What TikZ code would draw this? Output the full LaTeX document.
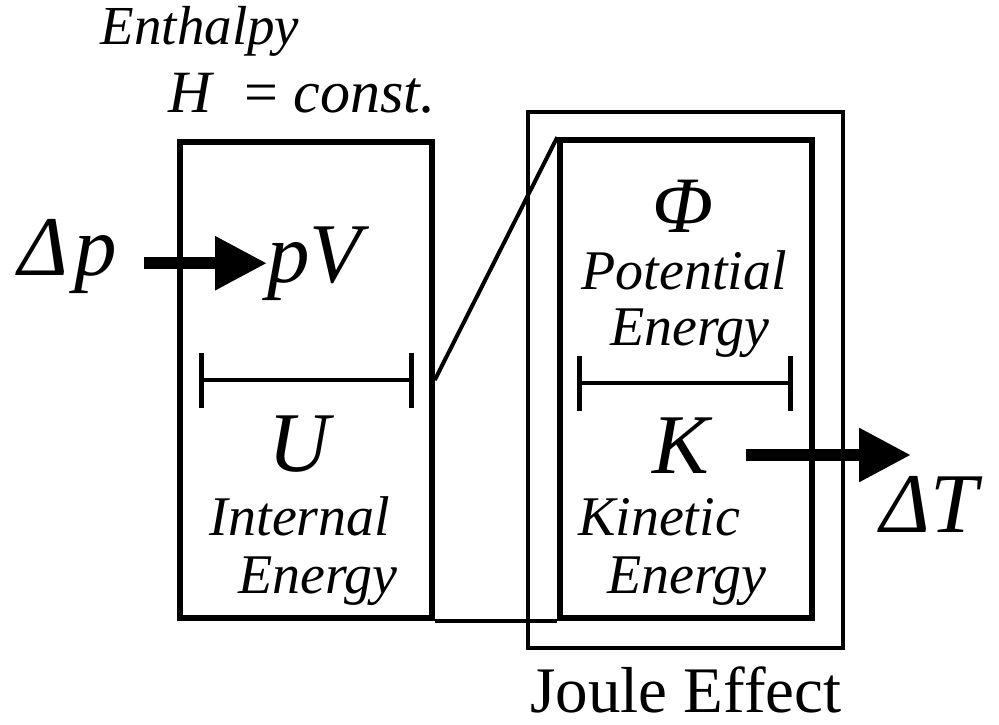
\documentclass[tikz,border=0pt]{standalone}
\usepackage{fontspec}
\setmainfont{Liberation Serif}
\usetikzlibrary{arrows.meta}

\begin{document}
\begin{tikzpicture}[x=1pt, y=-1pt,
  ebox/.style={draw, line width=5.5pt, inner sep=0pt},
  jbox/.style={draw, line width=3.5pt, inner sep=0pt},
  lbl/.style={font=\fontsize{56}{60}\selectfont\itshape, inner sep=0pt, anchor=base},
  sym/.style={font=\fontsize{85}{90}\selectfont\itshape, inner sep=0pt, anchor=base},
  link/.style={line width=4pt},
  bracket/.style={line width=4pt, {Bar[width=55pt, line width=5pt]}-{Bar[width=55pt, line width=5pt]}},
  fatarrow/.style={line width=12pt, -{Triangle[length=52pt, width=51pt]}}
]
  \useasboundingbox (0,0) rectangle (999,725);

  % Boxes
  \node[ebox, minimum width=252pt, minimum height=476pt] (enth) at (306,380) {};
  \node[ebox, minimum width=252pt, minimum height=478pt] (pk) at (686,379) {};
  \node[jbox, minimum width=315pt, minimum height=536pt] (joule) at (685.5,380) {};

  \draw[link] (enth.east) -- (pk.north west);
  \draw[link] (enth.south east) -- (pk.south west);

  % Brackets
  \coordinate (ul) at (199,380);
  \coordinate (ur) at (414,380);
  \draw[bracket] (ul) -- (ur);
  \coordinate (pl) at (577,383);
  \coordinate (pr) at (793,383);
  \draw[bracket] (pl) -- (pr);

  % Top labels
  \node[lbl, font=\fontsize{55}{58}\selectfont\itshape] (enthalpy) at (200,45) {Enthalpy};
  \node[lbl, font=\fontsize{60}{64}\selectfont] (hconst) at (302,112) {\textit{H}\hspace{30pt}= \textit{const.}};

  % Left box
  \node[sym] (dp) at (68,275) {Δ\kern6pt p};
  \node[sym, anchor=base west] (pv) at (267,282) {pV};
  \node[sym] (u) at (299,471) {U};
  \node[lbl] (internal) at (300,535) {Internal};
  \node[lbl] (energyu) at (318,593) {Energy};

  % Right box
  \node[sym, font=\fontsize{80}{84}\selectfont\itshape] (phi) at (683,232) {Φ};
  \node[lbl] (potential) at (684,289) {Potential};
  \node[lbl] (energyp) at (690,345) {Energy};
  \node[sym] (k) at (681,473) {K};
  \node[lbl] (kinetic) at (659,535) {Kinetic};
  \node[lbl] (energyk) at (687,593) {Energy};
  \node[sym, anchor=base west] (dt) at (880,532) {ΔT};
  \node[font=\fontsize{65}{70}\selectfont, inner sep=0pt, anchor=base] (jeff) at (686,712) {Joule Effect};

  % Arrows
  \coordinate (tout) at (911,455);
  \draw[fatarrow] ([xshift=27pt]dp.east |- pv.west) -- (pv.west);
  \draw[fatarrow] ([xshift=36pt]k.east |- tout) -- (tout);
\end{tikzpicture}
\end{document}
